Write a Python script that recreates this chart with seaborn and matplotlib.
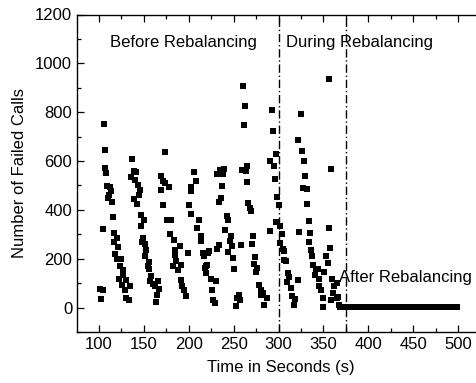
import matplotlib
matplotlib.use("Agg")
import matplotlib.pyplot as plt
import seaborn as sns
import pandas as pd
import numpy as np
from matplotlib.ticker import MultipleLocator

# ---- data ----
time_s = [
    101.5, 102.6, 104.0, 104.5, 105.2, 106.3, 107.0, 107.8, 109.0, 110.0, 111.5, 112.6, 113.4, 114.5,
    115.2, 116.3, 117.0, 118.2, 120.0, 120.0, 121.2, 122.0, 123.7, 124.8, 125.6, 126.4, 127.0, 129.3,
    130.0, 130.5, 133.0, 134.9,
    136.0, 136.8, 138.6, 139.3, 139.8, 141.2, 142.3, 143.5, 144.2, 145.3, 146.8, 147.1, 148.0, 149.0,
    150.5, 151.6, 151.6, 152.4, 154.6, 155.3, 156.0, 156.5, 158.0, 160.5, 162.0, 163.5, 164.3, 165.7, 167.2,
    168.7, 169.4, 171.3, 171.3, 173.2, 173.9, 175.8, 177.7, 178.8, 180.6, 182.5, 183.6, 184.3, 185.0,
    186.1, 188.0, 189.9, 191.0, 191.7, 192.8, 194.7, 197.3, 199.2,
    199.9, 202.2, 202.9, 202.9, 205.5, 208.4, 209.5, 211.0, 213.3, 213.9, 215.9, 217.0, 217.8, 219.6,
    219.6, 220.7, 221.8, 222.6, 224.4, 225.5, 226.2, 226.7, 229.2, 230.0,
    231.1, 231.8, 233.7, 233.7, 234.8, 235.6, 237.4, 238.2, 239.3, 240.0, 242.3, 243.7, 244.1, 245.9,
    246.7, 248.5, 249.6, 250.4, 252.3, 254.1, 256.0, 257.1, 258.5,
    259.7, 260.4, 261.6, 262.3, 263.5, 264.5, 265.2, 266.4, 268.2, 269.7, 270.8, 271.9, 272.7, 273.8,
    274.6, 276.4, 278.3, 280.2, 280.8, 283.1, 283.9, 286.9,
    290.5, 290.5, 292.4, 293.5, 295.0, 296.1, 296.9, 297.2, 298.7, 300.9, 301.7, 301.7, 303.6, 304.7,
    306.1, 306.1, 308.4, 309.1, 310.9, 312.0, 313.6, 315.4, 317.6, 318.4, 321.4,
    322.0, 322.5, 324.7, 325.8, 327.6, 328.4, 329.5, 331.4, 331.4, 333.7, 334.3, 335.4, 336.6, 337.7,
    338.1, 340.7, 341.8, 343.7, 345.5, 345.5, 347.4, 349.3, 349.3,
    351.1, 353.0, 354.8, 355.9, 356.6, 357.4, 358.5, 358.5, 359.6, 360.4, 362.2, 364.8, 364.8, 366.7, 367.1,
]
failed_calls = [
    78, 36, 70, 323, 753, 644, 572, 549, 497, 448, 459, 494, 476, 431,
    371, 267, 306, 220, 285, 199, 248, 119, 169, 199, 91, 153, 135, 71,
    111, 40, 30, 87,
    535, 610, 561, 446, 521, 556, 426, 500, 460, 480, 333, 381, 267, 285,
    360, 262, 210, 237, 169, 156, 187, 108, 128, 98, 87, 22, 53, 108, 77,
    483, 540, 517, 418, 636, 511, 360, 494, 303, 357, 172, 278, 237, 217,
    190, 153, 254, 111, 173, 87, 74, 46, 224,
    418, 494, 476, 385, 554, 520, 326, 357, 292, 271, 224, 210, 163, 169,
    142, 176, 224, 230, 115, 71, 74, 33, 19, 108,
    240, 545, 431, 258, 565, 449, 497, 547, 569, 317, 374, 360, 226, 272,
    292, 254, 202, 158, 5, 40, 53, 30, 258,
    565, 908, 748, 826, 561, 581, 513, 429, 408, 394, 261, 295, 180, 208,
    145, 163, 94, 74, 53, 60, 12, 40,
    599, 312, 808, 722, 579, 527, 627, 349, 453, 422, 333, 265, 303, 240,
    230, 194, 191, 104, 142, 126, 81, 46, 12, 36, 111,
    688, 308, 794, 643, 490, 602, 538, 487, 426, 356, 267, 306, 235, 213,
    173, 135, 158, 156, 87, 115, 74, 40, 3,
    145, 210, 183, 936, 324, 242, 569, 33, 115, 60, 87, 40, 101, 44, 12,
]

# after rebalancing: one sample every 2 s from 369 s to 499 s
after_time = list(range(369, 501, 2))
after_calls = [3, 2, 3, 2, 2, 3, 2, 3, 2, 2, 3, 2, 2, 3, 2, 3, 2, 2, 3, 2, 2, 3,
               2, 3, 2, 2, 3, 2, 2, 3, 2, 3, 2, 2, 3, 2, 2, 3, 2, 3, 2, 2, 3, 2,
               2, 3, 2, 3, 2, 2, 3, 2, 2, 3, 2, 3, 2, 2, 3, 2, 2, 3, 2, 3, 2, 3]

phase_bounds = [300, 375]
phase_labels = ["Before Rebalancing", "During Rebalancing", "After Rebalancing"]

df = pd.DataFrame({"t": time_s + after_time,
                   "calls": failed_calls + after_calls[:len(after_time)]})

sns.set_style("ticks")
plt.rcParams["font.family"] = ["Liberation Sans", "DejaVu Sans"]
plt.rcParams["font.size"] = 12
for k in ["text.color", "axes.labelcolor", "xtick.color", "ytick.color", "axes.edgecolor"]:
    plt.rcParams[k] = "black"

fig = plt.figure(figsize=(4.76, 3.83), dpi=100)
ax = fig.add_axes([77 / 476, 1 - 332 / 383, (485 - 77) / 476, (332 - 14.5) / 383])

sns.scatterplot(data=df, x="t", y="calls", ax=ax, marker="s", s=13,
                color="black", edgecolor="black", linewidth=0, zorder=2)

for xb in phase_bounds:
    ax.axvline(xb, color="black", linestyle=(0, (6, 2, 1, 2)), linewidth=1.0, zorder=1)

ax.text(112, 1085, phase_labels[0], fontsize=12, va="center", ha="left")
ax.text(308, 1085, phase_labels[1], fontsize=12, va="center", ha="left")
ax.text(367, 123, phase_labels[2], fontsize=12, va="center", ha="left", zorder=3)

ax.set_xlim(75.5, 530)
ax.set_ylim(-100, 1200)
ax.set_xticks([100, 150, 200, 250, 300, 350, 400, 450, 500])
ax.set_yticks([0, 200, 400, 600, 800, 1000, 1200])
ax.xaxis.set_minor_locator(MultipleLocator(25))
ax.yaxis.set_minor_locator(MultipleLocator(100))
ax.tick_params(which="major", direction="in", length=5, width=0.9, labelsize=12, top=True)
ax.tick_params(which="minor", direction="in", length=3, width=0.9, top=True)
ax.set_xlabel("Time in Seconds (s)", fontsize=12, labelpad=6)
ax.set_ylabel("Number of Failed Calls", fontsize=12, labelpad=6)
for sp in ax.spines.values():
    sp.set_visible(True)
    sp.set_linewidth(1.0)
    sp.set_color("black")

fig.savefig("out.png", dpi=100)
